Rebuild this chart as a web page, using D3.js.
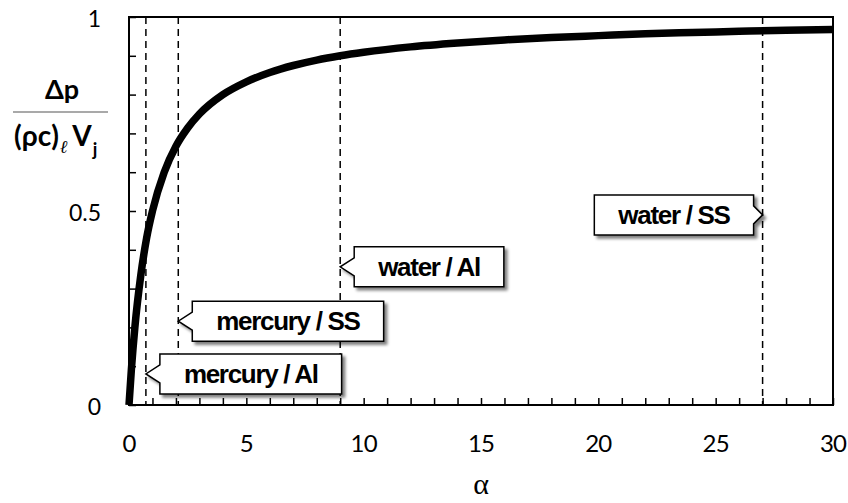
<!DOCTYPE html>
<html><head><meta charset="utf-8">
<script src="https://cdn.jsdelivr.net/npm/d3@7"></script>
<style>body{margin:0;background:#fff}svg{display:block}</style>
</head><body>
<svg id="c" width="848" height="503"></svg>
<script>
// data
const alphaVals = [0, 0.1, 0.25, 0.5, 0.75, 1, 1.5, 2, 2.5, 3, 4, 5, 6, 7, 8, 9, 10, 12, 14, 16, 18, 20, 22, 24, 26, 28, 30];
const dpVals    = [0, 0.09, 0.2, 0.333, 0.43, 0.5, 0.6, 0.667, 0.714, 0.75, 0.8, 0.833, 0.857, 0.875, 0.889, 0.9, 0.909, 0.923, 0.933, 0.941, 0.947, 0.952, 0.957, 0.96, 0.963, 0.966, 0.968];
const xTickLabels = [0, 5, 10, 15, 20, 25, 30];
const yTickLabels = [0, 0.5, 1];
const markerNames = ["mercury / Al", "mercury / SS", "water / Al", "water / SS"];
const markerAlpha = [0.72, 2.1, 9, 27];
const markerLabelY = [0.08, 0.216, 0.356, 0.49];
const markerSide = ["right", "right", "right", "left"];

const svg = d3.select("#c");
const L = 129, R = 833, T = 17, B = 405;
const x = d3.scaleLinear().domain([0, 30]).range([L, R]);
const y = d3.scaleLinear().domain([0, 1]).range([B, T]);

const defs = svg.append("defs");
const f = defs.append("filter").attr("id", "sh").attr("x", "-10%").attr("y", "-10%").attr("width", "130%").attr("height", "140%");
f.append("feGaussianBlur").attr("in", "SourceAlpha").attr("stdDeviation", 1.5);
f.append("feOffset").attr("dx", 3).attr("dy", 3).attr("result", "o");
f.append("feComponentTransfer").append("feFuncA").attr("type", "linear").attr("slope", 0.5);
const fm = f.append("feMerge"); fm.append("feMergeNode"); fm.append("feMergeNode").attr("in", "SourceGraphic");

// dashed verticals
svg.selectAll("line.dash").data(markerAlpha).enter().append("line")
  .attr("x1", d => x(d)).attr("x2", d => x(d)).attr("y1", T).attr("y2", B)
  .attr("stroke", "#000").attr("stroke-width", 1.5).attr("stroke-dasharray", "7,5");

// minor ticks (inward)
const xAxis = d3.axisTop(x).tickValues(d3.range(0, 31, 1)).tickSize(7).tickFormat("");
svg.append("g").attr("transform", `translate(0,${B})`).call(xAxis)
  .call(g => { g.select(".domain").remove(); g.selectAll("line").attr("stroke-width", 1.5); });
const yAxis = d3.axisRight(y).tickValues(d3.range(0, 11).map(i => i / 10)).tickSize(7).tickFormat("");
svg.append("g").attr("transform", `translate(${L},0)`).call(yAxis)
  .call(g => { g.select(".domain").remove(); g.selectAll("line").attr("stroke-width", 1.5); });

// frame
svg.append("rect").attr("x", L).attr("y", T).attr("width", R - L).attr("height", B - T)
  .attr("fill", "none").attr("stroke", "#000").attr("stroke-width", 2);

// curve
const pts = alphaVals.map((a, i) => [a, dpVals[i]]);
svg.append("path").datum(pts)
  .attr("d", d3.line().x(d => x(d[0])).y(d => y(d[1])).curve(d3.curveMonotoneX))
  .attr("fill", "none").attr("stroke", "#000").attr("stroke-width", 7.5).attr("stroke-linejoin", "round");

// tick labels
svg.selectAll("text.xl").data(xTickLabels).enter().append("text")
  .attr("x", d => x(d)).attr("y", 452).attr("text-anchor", "middle")
  .attr("font-family", "Lato, 'Open Sans', sans-serif").attr("font-size", 24).attr("letter-spacing", -0.8).text(d => d);
svg.selectAll("text.yl").data(yTickLabels).enter().append("text")
  .attr("x", 101).attr("y", d => y(d) + 10).attr("text-anchor", "end")
  .attr("font-family", "Lato, 'Open Sans', sans-serif").attr("font-size", 23).text(d => d);

// axis titles
svg.append("text").attr("x", x(15)).attr("y", 494).attr("text-anchor", "middle")
  .attr("font-family", "'Liberation Serif', 'DejaVu Serif', serif").attr("font-size", 30).text("α");
const yl = svg.append("g").attr("font-family", "Lato, 'Open Sans', sans-serif").attr("font-weight", "bold");
yl.append("text").attr("x", 62).attr("y", 99).attr("text-anchor", "middle").attr("font-size", 27).text("Δp");
yl.append("line").attr("x1", 13).attr("x2", 108).attr("y1", 112).attr("y2", 112).attr("stroke", "#555").attr("stroke-width", 1.2);
const den = yl.append("text").attr("x", 14).attr("y", 146).attr("font-size", 28);
den.append("tspan").text("(ρc)");
den.append("tspan").attr("dy", 7).attr("dx", 1).attr("font-size", 18).attr("font-style", "italic").attr("font-family", "'DejaVu Serif', serif").attr("font-weight", "normal").text("ℓ");
den.append("tspan").attr("dy", -7).attr("dx", 5).text("V");
den.append("tspan").attr("dy", 10).attr("dx", 1).attr("font-size", 18).text("j");

// callouts
markerNames.forEach((name, i) => {
  const g = svg.append("g");
  const t = g.append("text").attr("font-family", "'Liberation Sans', Arial, sans-serif").attr("font-weight", "bold")
    .attr("font-size", 26).attr("letter-spacing", -1.3).text(name);
  const w = t.node().getComputedTextLength();
  const tipX = x(markerAlpha[i]);
  const cy = y(markerLabelY[i]);
  const bw = w + 48, bh = 40, half = 9;
  let d, tx;
  if (markerSide[i] === "right") {
    const gap = 14;
    const x0 = tipX + gap, x1 = x0 + bw;
    d = `M${x0},${cy - bh / 2}H${x1}V${cy + bh / 2}H${x0}V${cy + half}L${tipX},${cy}L${x0},${cy - half}Z`;
    tx = x0 + bw / 2;
  } else {
    const gap = 9;
    const x1 = tipX - gap, x0 = x1 - bw;
    d = `M${x0},${cy - bh / 2}H${x1}V${cy - half}L${tipX},${cy}L${x1},${cy + half}V${cy + bh / 2}H${x0}Z`;
    tx = x0 + bw / 2;
  }
  g.insert("path", "text").attr("d", d).attr("fill", "#fff").attr("stroke", "#000").attr("stroke-width", 1.5).attr("filter", "url(#sh)");
  t.attr("x", tx).attr("y", cy + 9).attr("text-anchor", "middle");
});
</script>
</body></html>
